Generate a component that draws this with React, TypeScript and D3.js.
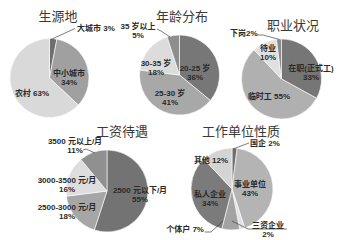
import React from "react";
import * as d3 from "d3";

// ---- Data ----
const originCats = ["大城市", "中小城市", "农村"];
const originVals = [3, 34, 63];

const ageCats = ["20-25 岁", "25-30 岁", "30-35 岁", "35 岁以上"];
const ageVals = [36, 41, 18, 5];

const jobCats = ["在职(正式工)", "临时工", "待业", "下岗"];
const jobVals = [33, 55, 10, 2];

const wageCats = ["2500 元以下/月", "2500-3000 元/月", "3000-3500 元/月", "3500 元以上/月"];
const wageVals = [55, 18, 16, 11];

const unitCats = ["国企", "事业单位", "三资企业", "个体户", "私人企业", "其他"];
const unitVals = [2, 43, 2, 7, 34, 12];

const titles = ["生源地", "年龄分布", "职业状况", "工资待遇", "工作单位性质"];

// ---- Layout / style ----
type LabelSpec = {
  x: number;
  y: number;
  anchor?: "start" | "middle" | "end";
  split?: boolean; // category and percentage on two lines
  gap?: string;
  leader?: [number, number][];
};

type PieSpec = {
  title: string;
  tx: number;
  ty: number;
  cx: number;
  cy: number;
  r: number;
  cats: string[];
  vals: number[];
  colors: string[];
  labels: LabelSpec[];
};

const pies: PieSpec[] = [
  {
    title: titles[0], tx: 58, ty: 21, cx: 49.5, cy: 78, r: 39.5,
    cats: originCats, vals: originVals,
    colors: ["#6f6f6f", "#a0a0a0", "#d9d9d9"],
    labels: [
      { x: 77, y: 31, anchor: "start", gap: " ", leader: [[51, 39.5], [75, 28.5]] },
      { x: 69, y: 76, split: true },
      { x: 32, y: 96, gap: " " },
    ],
  },
  {
    title: titles[1], tx: 182, ty: 21, cx: 179.5, cy: 75, r: 40,
    cats: ageCats, vals: ageVals,
    colors: ["#777777", "#a8a8a8", "#dcdcdc", "#8e8e8e"],
    labels: [
      { x: 195, y: 71, split: true },
      { x: 170, y: 96, split: true },
      { x: 156, y: 66, split: true },
      { x: 138, y: 29, split: true, leader: [[157, 29], [161, 31], [170, 37]] },
    ],
  },
  {
    title: titles[2], tx: 293, ty: 30, cx: 281.5, cy: 79, r: 40,
    cats: jobCats, vals: jobVals,
    colors: ["#767676", "#b0b0b0", "#e0e0e0", "#8a8a8a"],
    labels: [
      { x: 311, y: 71, split: true },
      { x: 269, y: 99, gap: " " },
      { x: 268, y: 51, split: true },
      { x: 230, y: 36, anchor: "start", gap: "", leader: [[257, 35], [263, 35], [279.5, 39.5]] },
    ],
  },
  {
    title: titles[3], tx: 122, ty: 136, cx: 107, cy: 191, r: 41,
    cats: wageCats, vals: wageVals,
    colors: ["#737373", "#a6a6a6", "#dedede", "#909090"],
    labels: [
      { x: 140, y: 193, split: true },
      { x: 67, y: 210, split: true },
      { x: 67, y: 183, split: true },
      { x: 75, y: 144, split: true, leader: [[83, 150], [86, 149], [95, 153]] },
    ],
  },
  {
    title: titles[4], tx: 241, ty: 136, cx: 232, cy: 189, r: 41,
    cats: unitCats, vals: unitVals,
    colors: ["#6e6e6e", "#b4b4b4", "#e2e2e2", "#a3a3a3", "#7b7b7b", "#d4d4d4"],
    labels: [
      { x: 250, y: 146, anchor: "start", gap: " ", leader: [[233, 149], [249, 143]] },
      { x: 250, y: 187, split: true },
      { x: 268, y: 228, split: true, leader: [[232, 221], [248, 229], [287, 229]] },
      { x: 204, y: 232, anchor: "end", gap: " ", leader: [[205, 232], [211, 232], [223, 221]] },
      { x: 210, y: 197, split: true },
      { x: 211, y: 163, gap: " " },
    ],
  },
];

const labelFont = "'Liberation Sans', 'Noto Sans CJK SC', sans-serif";
const titleFont = "'Noto Sans CJK SC', serif";

function Pie({ spec }: { spec: PieSpec }) {
  const arcs = d3.pie<number>().sort(null).value((d) => d)(spec.vals);
  const arcGen = d3.arc<d3.PieArcDatum<number>>().innerRadius(0).outerRadius(spec.r);
  return (
    <g>
      <text
        x={spec.tx}
        y={spec.ty}
        textAnchor="middle"
        fontFamily={titleFont}
        fontSize={13}
        fill="#3a3a3a"
      >
        {spec.title}
      </text>
      <g transform={`translate(${spec.cx},${spec.cy})`}>
        {arcs.map((a, i) => (
          <path key={i} d={arcGen(a) || ""} fill={spec.colors[i]} stroke="#ffffff" strokeWidth={0.6} />
        ))}
      </g>
      {spec.labels.map((l, i) => {
        const cat = spec.cats[i];
        const pct = `${spec.vals[i]}%`;
        return (
          <g key={i}>
            {l.leader && (
              <polyline
                points={l.leader.map((p) => p.join(",")).join(" ")}
                fill="none"
                stroke="#444"
                strokeWidth={0.7}
              />
            )}
            <text
              x={l.x}
              y={l.y}
              textAnchor={l.anchor || "middle"}
              fontFamily={labelFont}
              fontSize={8}
              fontWeight="bold"
              fill="#2a2a2a"
            >
              {l.split ? (
                <>
                  <tspan x={l.x} y={l.y}>{cat}</tspan>
                  <tspan x={l.x} y={l.y + 9}>{pct}</tspan>
                </>
              ) : (
                `${cat}${l.gap ?? " "}${pct}`
              )}
            </text>
          </g>
        );
      })}
    </g>
  );
}

export default function App() {
  return (
    <svg
      width={343}
      height={240}
      viewBox="0 0 343 240"
      style={{ position: "absolute", left: 0, top: 0, background: "#ffffff" }}
    >
      <rect x={0} y={0} width={343} height={240} fill="#ffffff" />
      {pies.map((p, i) => (
        <Pie key={i} spec={p} />
      ))}
    </svg>
  );
}
